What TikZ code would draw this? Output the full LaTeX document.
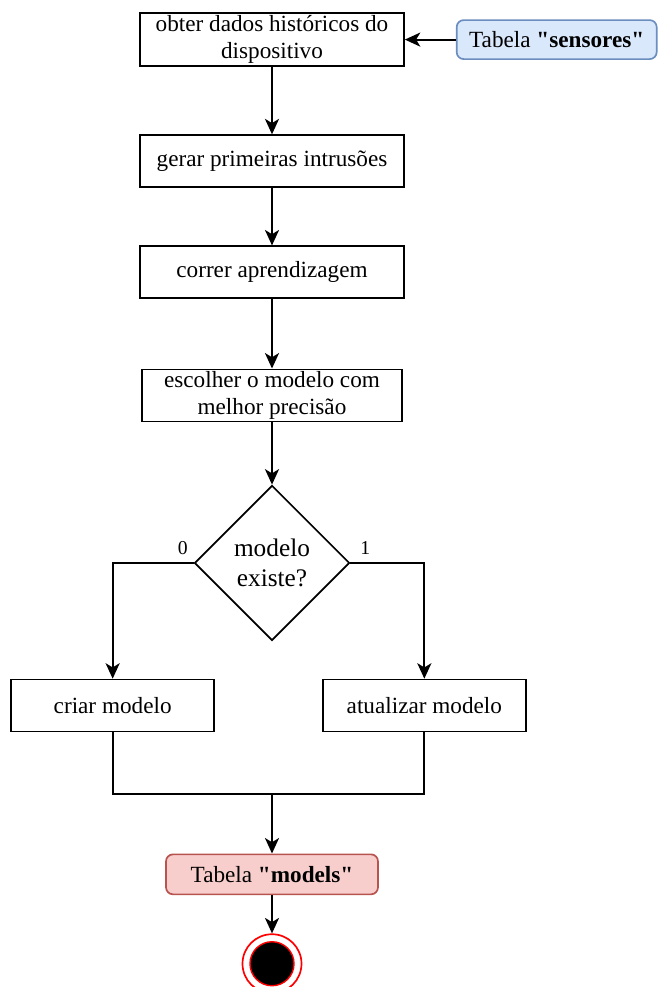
\documentclass[tikz,border=0pt]{standalone}
\usepackage{fontspec}
\setmainfont{Liberation Serif}[Ligatures=TeXOff]
\usetikzlibrary{shapes.geometric, arrows.meta, positioning, calc}
\definecolor{sensfill}{HTML}{DAE8FC}
\definecolor{sensdraw}{HTML}{6C8EBF}
\definecolor{modfill}{HTML}{F8CECC}
\definecolor{moddraw}{HTML}{B85450}

\begin{document}
\begin{tikzpicture}[
    stepbox/.style={rectangle, draw=black, line width=1.2pt,
        align=center, minimum width=6.6cm, minimum height=1.3cm,
        inner sep=1pt, font=\fontsize{16.5}{19.5}\selectfont},
    sensbox/.style={rectangle, draw=sensdraw, line width=1.2pt,
        rounded corners=5pt, fill=sensfill, align=center,
        minimum width=5.0cm, minimum height=0.975cm,
        font=\fontsize{16.5}{19.5}\selectfont},
    modbox/.style={rectangle, draw=moddraw, line width=1.2pt,
        rounded corners=5pt, fill=modfill, align=center,
        minimum width=5.3cm, minimum height=1.0cm,
        font=\fontsize{16.5}{19.5}\selectfont},
    decision/.style={diamond, draw=black, line width=1.2pt, aspect=1,
        inner sep=0pt, minimum size=3.875cm, align=center,
        font=\fontsize{18}{21}\selectfont},
    endring/.style={circle, draw=red, line width=1.2pt,
        minimum size=1.475cm, inner sep=0pt},
    enddot/.style={circle, draw=red, line width=1pt, fill=black,
        minimum size=1.1cm, inner sep=0pt},
    lbl/.style={font=\fontsize{14}{16}\selectfont, inner sep=1pt},
    line/.style={draw=black, line width=1.4pt},
    arrow/.style={line, -{Stealth[length=11pt, width=10pt, inset=3pt]}}
]
\useasboundingbox (0,0) rectangle (16.45,-24.675);
% main column
\node[stepbox, minimum height=1.325cm] (hist) at (6.8,-0.99)
    {obter dados históricos do\\dispositivo};
\node[sensbox, right=1.275cm of hist] (sens)
    {Tabela \textbf{"sensores"}};
\node[stepbox, below=1.685cm of hist] (intr) {gerar primeiras intrusões};
\node[stepbox, below=1.435cm of intr] (learn) {correr aprendizagem};
\node[stepbox, minimum width=6.5cm, below=1.735cm of learn] (best)
    {escolher o modelo com\\melhor precisão};
\node[decision, below=1.56cm of best] (dec) {modelo\\existe?};
% branches
\node[stepbox, minimum width=5.075cm,
      below left=0.935cm and 1.425cm of dec.south, anchor=north east] (criar)
    {criar modelo};
\node[stepbox, minimum width=5.075cm,
      below right=0.935cm and 1.25cm of dec.south, anchor=north west] (atual)
    {atualizar modelo};
\node[lbl, above left=5pt and 3pt of dec.west] (zero) {0};
\node[lbl, above right=5pt and 6pt of dec.east] (one) {1};
\coordinate (join) at ($(dec.south)+(0,-3.825)$);
\node[modbox, below=1.48cm of join] (models) {Tabela \textbf{"models"}};
\node[endring, below=0.955cm of models] (end) {};
\node[enddot] (dot) at (end) {};
% arrows
\draw[arrow] (sens) -- (hist);
\draw[arrow] (hist) -- (intr);
\draw[arrow] (intr) -- (learn);
\draw[arrow] (learn) -- (best);
\draw[arrow] (best) -- (dec);
\draw[arrow] (dec.west) -| (criar.north);
\draw[arrow] (dec.east) -| (atual.north);
\draw[line] (criar.south) |- (join) -| (atual.south);
\draw[arrow] (join) -- (models);
\draw[arrow] (models) -- (end);
\end{tikzpicture}
\end{document}
